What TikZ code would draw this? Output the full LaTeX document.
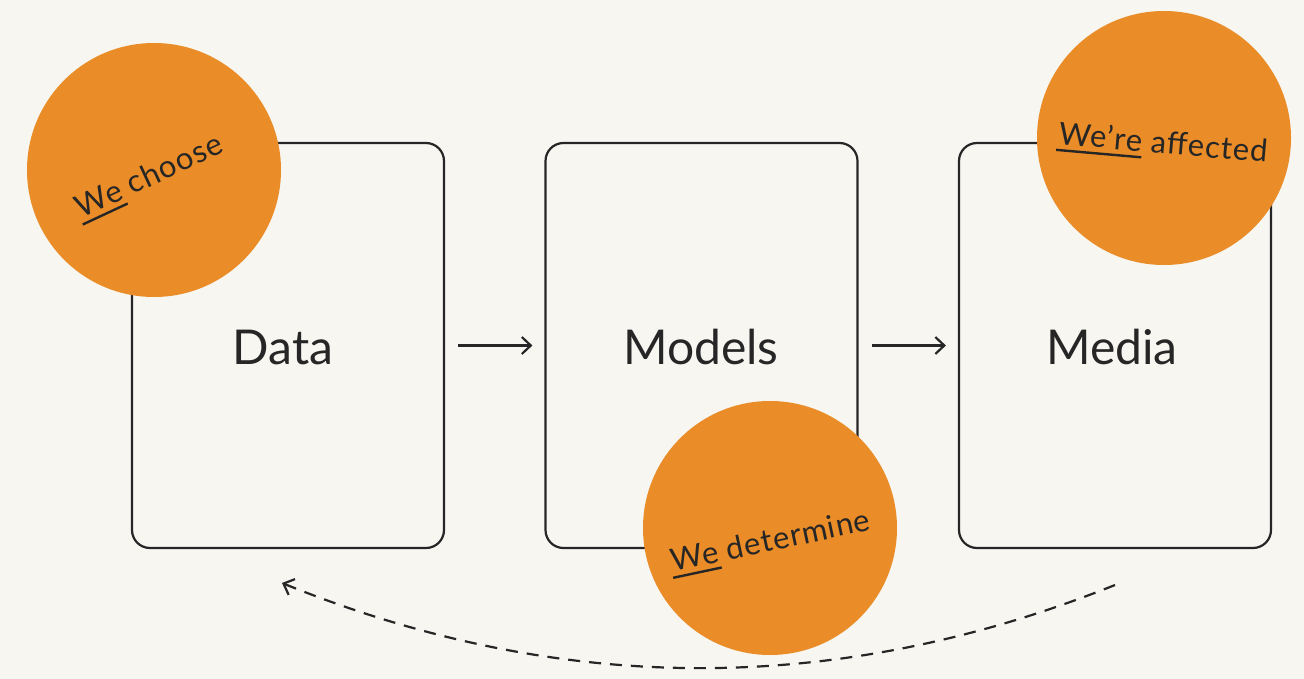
\documentclass[tikz,border=0pt]{standalone}
\usepackage{fontspec}
\setmainfont{Lato}
\usetikzlibrary{arrows.meta}
\definecolor{paper}{HTML}{F7F6F1}
\definecolor{ink}{HTML}{262626}
\definecolor{tangerine}{HTML}{EA8C27}
% heavier, lower underline for the pronoun
\newcommand{\pron}[1]{\setbox0\hbox{#1}\rlap{\kern-1.5pt\raisebox{-7pt}{\rule{\dimexpr\wd0+2pt\relax}{2.4pt}}}\box0\relax}
\tikzset{
  stage/.style={draw=ink, line width=2.2pt, rounded corners=18pt, minimum width=312pt, minimum height=405pt, inner sep=0pt},
  stagelabel/.style={text=ink, font=\fontsize{48}{52}\selectfont},
  flow/.style={draw=ink, line width=2.2pt, -{Straight Barb[length=9pt,width=17pt,line width=2.2pt]}, shorten <=13pt, shorten >=12pt},
  feedback/.style={draw=ink, line width=2.2pt, dash pattern=on 12pt off 9pt, -{Straight Barb[length=9pt,width=17pt,line width=2.2pt]}},
  badge/.style={circle, fill=tangerine, minimum size=254pt, inner sep=0pt},
  badgetext/.style={text=ink, font=\fontsize{31}{36}\selectfont\addfontfeature{LetterSpace=3}, inner sep=0pt}
}
\begin{document}
\begin{tikzpicture}[x=1pt,y=-1pt]
  \fill[paper] (0,0) rectangle (1304,679);
  \useasboundingbox (0,0) rectangle (1304,679);

  % pipeline stages
  \node[stage] (data) at (288,345.5) {};
  \node[stage] (models) at (701.5,345.5) {};
  \node[stage] (media) at (1115,345.5) {};
  \node[stagelabel] (datalabel) at (283,347) {Data};
  \node[stagelabel] (modelslabel) at (701,347) {Models};
  \node[stagelabel] (medialabel) at (1112,347) {Media};

  % forward flow
  \draw[flow] (data.east) -- (models.west);
  \draw[flow] (models.east) -- (media.west);

  % feedback loop back to the data
  \coordinate (loopstart) at (1115,585);
  \coordinate (loopend) at (282,583);
  \draw[feedback] (loopstart) .. controls (838,696) and (561,696) .. (loopend);

  % badges
  \node[badge] (choose) at (154,170) {};
  \node[badge] (determine) at (770,528) {};
  \node[badge] (affected) at (1164,138) {};
  \node[badgetext, rotate=25] (choosetext) at (150,178) {\pron{We} choose};
  \node[badgetext, rotate=12] (determinetext) at (771,543) {\pron{We} determine};
  \node[badgetext, rotate=-5] (affectedtext) at (1163,145) {\pron{We’re} affected};
\end{tikzpicture}
\end{document}
